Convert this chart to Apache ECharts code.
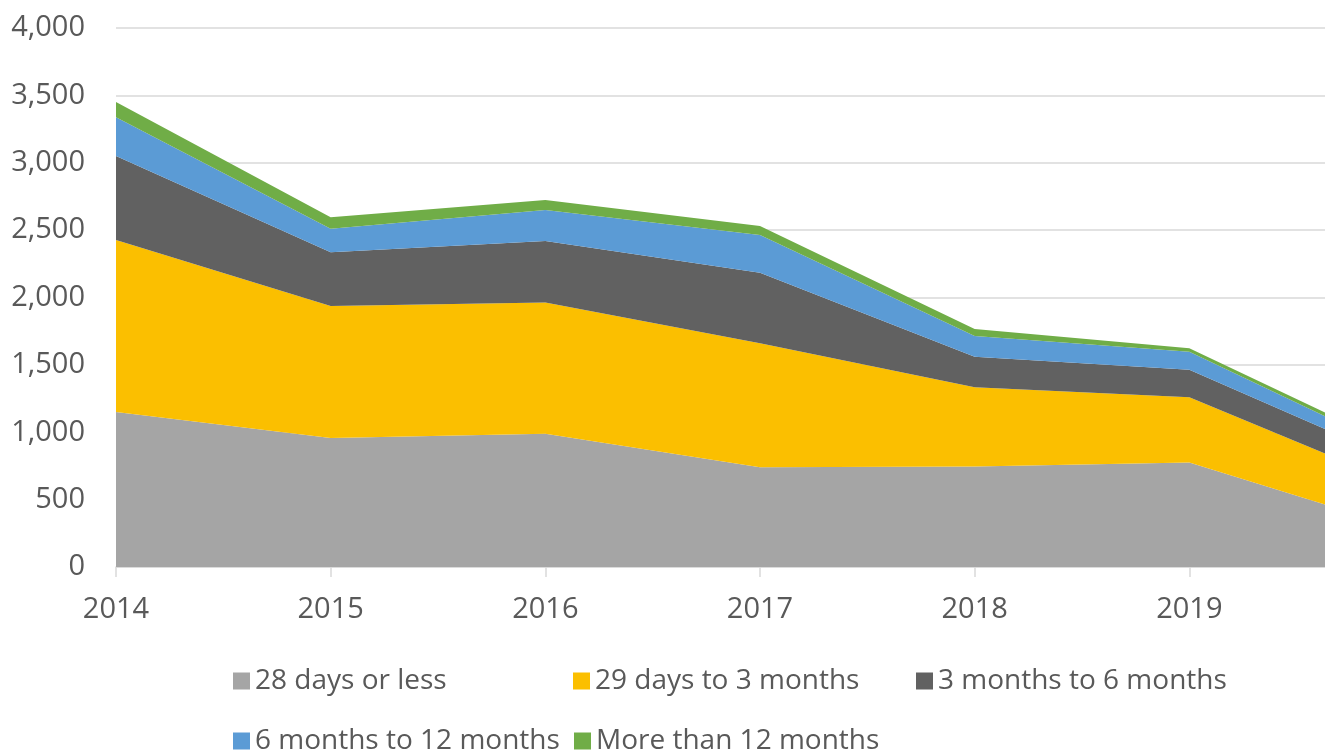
<!DOCTYPE html>
<html>
<head>
<meta charset="utf-8">
<script src="https://cdn.jsdelivr.net/npm/echarts@6/dist/echarts.min.js"></script>
<style>
  html, body { margin: 0; padding: 0; background: #fff; }
  #chart { width: 1325px; height: 753px; }
</style>
</head>
<body>
<div id="chart"></div>
<script>
// years on the x axis (2020 sits just past the right edge of the picture)
const years = ['2014', '2015', '2016', '2017', '2018', '2019', '2020'];
// series values
const days28OrLess = [1150, 958, 988, 741, 745, 776, 281];
const days29To3Months = [1277, 979, 974, 920, 589, 484, 317];
const months3To6 = [623, 399, 457, 523, 227, 203, 171];
const months6To12 = [288, 175, 230, 280, 154, 135, 70];
const moreThan12Months = [112, 85, 74, 66, 52, 26, 31];

const names = ['28 days or less', '29 days to 3 months', '3 months to 6 months',
    '6 months to 12 months', 'More than 12 months'];
const values = [days28OrLess, days29To3Months, months3To6, months6To12, moreThan12Months];
const colors = ['#A5A5A5', '#FBBF00', '#616161', '#5B9BD5', '#70AD47'];

var chart = echarts.init(document.getElementById('chart'));

const font = 'Open Sans';
const textColor = '#595959';

// legend items placed in fixed columns, like the original
const legendPos = [[233, 666], [573, 666], [916, 666], [233, 726], [574, 726]];
const legends = names.map((n, i) => ({
    data: [n],
    left: legendPos[i][0],
    top: legendPos[i][1],
    padding: 0,
    icon: 'rect',
    itemWidth: 17,
    itemHeight: 17,
    textStyle: { fontFamily: font, fontSize: 28, color: textColor, lineHeight: 30 }
}));

const option = {
    backgroundColor: '#fff',
    animation: false,
    color: colors,
    grid: {
        left: 116,
        right: -79,
        top: 28,
        bottom: 186,
        containLabel: false,
        outerBoundsMode: 'none'
    },
    legend: legends,
    xAxis: {
        type: 'category',
        boundaryGap: false,
        data: years,
        axisLine: { lineStyle: { color: '#D9D9D9', width: 1.5 } },
        axisTick: { show: true, length: 10, lineStyle: { color: '#D9D9D9', width: 1.5 } },
        axisLabel: { fontFamily: font, fontSize: 29, color: textColor, margin: 28 }
    },
    yAxis: {
        type: 'value',
        min: 0,
        max: 4000,
        interval: 500,
        axisLine: { show: false },
        axisTick: { show: false },
        splitLine: { lineStyle: { color: '#D9D9D9', width: 1.5 } },
        axisLabel: {
            fontFamily: font, fontSize: 29, color: textColor, margin: 31,
            formatter: v => v.toLocaleString('en-US')
        }
    },
    series: names.map((n, i) => ({
        name: n,
        type: 'line',
        stack: 'total',
        data: values[i],
        symbol: 'none',
        lineStyle: { width: 0 },
        areaStyle: { color: colors[i], opacity: 1 },
        itemStyle: { color: colors[i] }
    }))
};

chart.setOption(option);
</script>
</body>
</html>
